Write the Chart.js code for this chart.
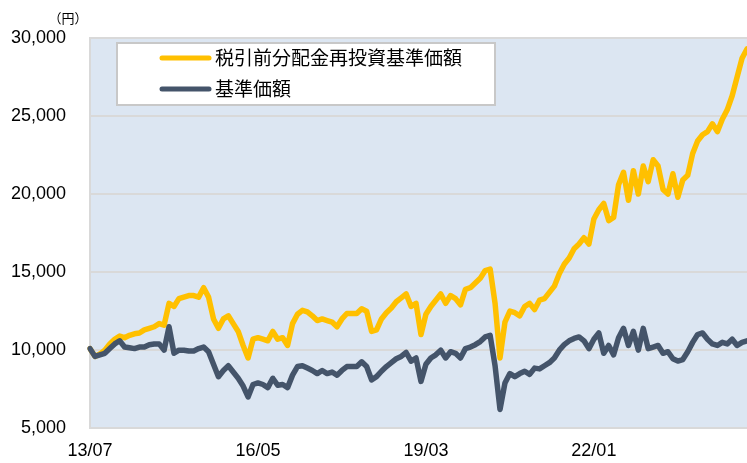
<!DOCTYPE html>
<html>
<head>
<meta charset="utf-8">
<script src="https://cdn.jsdelivr.net/npm/chart.js@4"></script>
<style>
html,body{margin:0;padding:0;background:#fff;}
#c{display:block;}
</style>
</head>
<body>
<canvas id="c" width="747" height="463"></canvas>
<script>
// Monthly categories 2013/07 .. 2024/08 (YY/MM)
const categories = [];
for (let y = 13, m = 7; categories.length < 134; ) {
  categories.push(String(y).padStart(2,'0') + '/' + String(m).padStart(2,'0'));
  m++; if (m > 12) { m = 1; y++; }
}
const xTickLabels = ['13/07','16/05','19/03','22/01'];
const yTicks = [5000,10000,15000,20000,25000,30000];
const seriesNames = ['税引前分配金再投資基準価額','基準価額'];
const unitLabel = '（円）';

const reinvestNav = [
10100,9600,9750,10000,10400,10700,10900,10800,10950,11050,
11100,11300,11400,11500,11700,11600,13000,12800,13300,13400,
13500,13500,13400,14000,13400,12000,11400,12000,12200,11700,
11200,10300,9500,10700,10800,10700,10600,11200,10700,10800,
10300,11700,12300,12550,12450,12200,11900,12000,11900,11800,
11500,12000,12350,12350,12350,12650,12500,11200,11300,12000,
12400,12700,13100,13350,13600,12800,13000,11000,12300,12800,
13200,13600,13000,13500,13300,12900,13900,14000,14300,14600,
15100,15200,13000,9500,11800,12500,12400,12200,12800,13000,
12600,13200,13300,13700,14100,14900,15500,15900,16500,16800,
17200,16800,18400,19000,19400,18300,18500,20600,21400,19600,
21500,20000,21800,20800,22200,21800,20300,20000,21300,19800,
20900,21200,22600,23400,23800,24000,24500,24000,24800,25400,
26300,27500,28700,29300
];
const nav = [
10100,9600,9700,9800,10100,10400,10600,10200,10150,10100,
10200,10200,10350,10400,10400,10000,11500,9800,10000,10000,
9950,9950,10100,10200,9900,9100,8300,8700,9000,8600,
8200,7700,7000,7800,7900,7800,7600,8200,7750,7800,
7600,8400,8950,9000,8850,8700,8500,8700,8500,8600,
8400,8700,8950,8950,8950,9250,8950,8100,8300,8650,
8950,9200,9450,9600,9850,9300,9500,8000,9100,9500,
9700,10000,9500,9900,9800,9500,10100,10200,10350,10550,
10850,10950,9000,6200,7900,8500,8300,8500,8650,8450,
8850,8800,9000,9200,9500,10000,10350,10600,10750,10850,
10600,10100,10700,11100,9800,10300,9700,10800,11400,10300,
11200,10000,11400,10100,10200,10300,9800,9900,9450,9300,
9400,9900,10500,11000,11100,10700,10400,10300,10500,10400,
10700,10300,10500,10600
];

const GOLD = '#FFC000';
const SLATE = '#44546A';
const FONT = "'Liberation Sans', Arial, sans-serif";
const CJK = "'Noto Sans CJK JP', 'Noto Sans CJK SC', sans-serif";

const bgPlugin = {
  id: 'plotBg',
  beforeDraw(chart) {
    const {ctx, chartArea: a} = chart;
    ctx.save();
    ctx.fillStyle = '#DCE6F2';
    ctx.fillRect(a.left, a.top, a.right - a.left, a.bottom - a.top);
    ctx.restore();
  }
};

const legendPlugin = {
  id: 'boxLegend',
  afterDraw(chart) {
    const ctx = chart.ctx;
    ctx.save();
    // unit label
    ctx.fillStyle = '#000';
    ctx.font = '13px ' + CJK;
    ctx.textAlign = 'center';
    ctx.textBaseline = 'middle';
    ctx.fillText(unitLabel, 68, 18);
    // legend box
    const bx = 117, by = 43, bw = 378, bh = 62;
    ctx.fillStyle = '#FFFFFF';
    ctx.fillRect(bx, by, bw, bh);
    ctx.strokeStyle = '#C8C8C8';
    ctx.lineWidth = 2;
    ctx.strokeRect(bx, by, bw, bh);
    const ds = chart.data.datasets;
    const order = [1, 0];
    const rows = [58, 89];
    order.forEach((di, k) => {
      const d = ds[di];
      const y = rows[k];
      ctx.strokeStyle = d.borderColor;
      ctx.lineWidth = 5;
      ctx.lineCap = 'round';
      ctx.beginPath();
      ctx.moveTo(162, y);
      ctx.lineTo(209, y);
      ctx.stroke();
      ctx.fillStyle = '#000';
      ctx.font = '19px ' + CJK;
      ctx.textAlign = 'left';
      ctx.textBaseline = 'middle';
      ctx.fillText(d.label, 215, y);
    });
    ctx.restore();
  }
};

new Chart(document.getElementById('c'), {
  type: 'line',
  data: {
    labels: categories,
    datasets: [
      { label: seriesNames[1], data: nav, borderColor: SLATE, backgroundColor: SLATE, borderWidth: 5.5, pointRadius: 0, tension: 0, borderJoinStyle: 'round', borderCapStyle: 'round', order: 0 },
      { label: seriesNames[0], data: reinvestNav, borderColor: GOLD, backgroundColor: GOLD, borderWidth: 5.5, pointRadius: 0, tension: 0, borderJoinStyle: 'round', borderCapStyle: 'round', order: 1 }
    ]
  },
  options: {
    responsive: false,
    animation: false,
    layout: { padding: { top: 38, right: 0, left: 0, bottom: 0 } },
    plugins: { legend: { display: false }, tooltip: { enabled: false }, title: { display: false } },
    scales: {
      x: {
        type: 'category',
        offset: false,
        grid: { display: false, drawTicks: false },
        border: { display: true, color: '#D9D9D9', width: 2 },
        ticks: {
          autoSkip: false, maxRotation: 0, minRotation: 0, padding: 12,
          color: '#000', font: { family: FONT, size: 18 },
          callback: function(v) { const l = this.getLabelForValue(v); return xTickLabels.includes(l) ? l : ''; }
        },
        afterFit(s) { s.height = 33; s.paddingRight = 0; s.paddingLeft = 0; }
      },
      y: {
        min: yTicks[0], max: yTicks[yTicks.length - 1],
        grid: { color: '#D9D9D9', lineWidth: 2, drawTicks: false },
        border: { display: true, color: '#D9D9D9', width: 2 },
        ticks: {
          stepSize: 5000, padding: 24, color: '#000', font: { family: FONT, size: 18 },
          callback: (v) => v.toLocaleString('en-US')
        },
        afterBuildTicks(s) { s.ticks = yTicks.map(v => ({ value: v })); },
        afterFit(s) { s.width = 90; }
      }
    }
  },
  plugins: [bgPlugin, legendPlugin]
});
</script>
</body>
</html>
